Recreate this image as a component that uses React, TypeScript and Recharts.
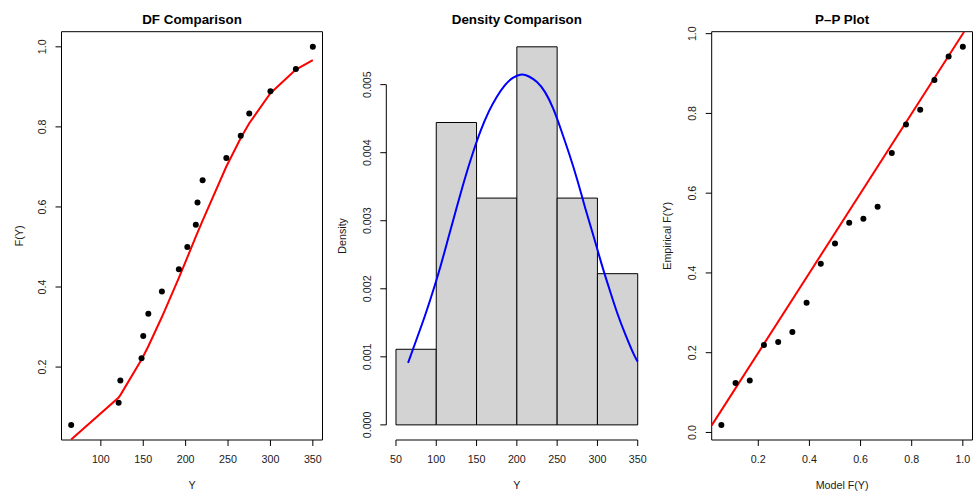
import React from 'react';
import {
  ComposedChart, XAxis, YAxis, Line, Scatter, ReferenceArea, ReferenceLine,
} from 'recharts';

// ---------- data ----------
const sortedY = [65, 121, 123, 148, 150, 156, 172, 192, 202, 212, 214, 220, 248, 265, 275, 300, 330, 350];
const empiricalF = [0.0556, 0.1111, 0.1667, 0.2222, 0.2778, 0.3333, 0.3889, 0.4444, 0.5, 0.5556, 0.6111, 0.6667, 0.7222, 0.7778, 0.8333, 0.8889, 0.9444, 1.0];
const modelF = [0.019, 0.124, 0.130, 0.219, 0.227, 0.252, 0.325, 0.423, 0.474, 0.526, 0.536, 0.566, 0.701, 0.772, 0.809, 0.884, 0.943, 0.967];

const histBreaks = [50, 100, 150, 200, 250, 300, 350];
const histDensity = [0.001111, 0.004444, 0.003333, 0.005556, 0.003333, 0.002222];

const curveX = [65, 75, 85, 95, 105, 115, 125, 135, 145, 155, 165, 175, 185, 195, 206, 215, 225, 235, 245, 255, 265, 275, 285, 295, 305, 315, 325, 335, 345, 350];
const curveD = [0.00091, 0.00124, 0.00157, 0.00193, 0.00232, 0.00275, 0.00318, 0.00360, 0.00398, 0.00432, 0.00460, 0.00482, 0.00499, 0.00510, 0.00515, 0.00512, 0.00504, 0.00489, 0.00465, 0.00433, 0.00398, 0.00360, 0.00318, 0.00278, 0.00237, 0.00199, 0.00163, 0.00132, 0.00104, 0.00093];

const p1XTicks = [100, 150, 200, 250, 300, 350];
const p1YTicks = [0.2, 0.4, 0.6, 0.8, 1.0];
const p1YTickLabels = ['0.2', '0.4', '0.6', '0.8', '1.0'];
const p2XTicks = [50, 100, 150, 200, 250, 300, 350];
const p2YTicks = [0, 0.001, 0.002, 0.003, 0.004, 0.005];
const p2YTickLabels = ['0.000', '0.001', '0.002', '0.003', '0.004', '0.005'];
const p3XTicks = [0.2, 0.4, 0.6, 0.8, 1.0];
const p3XTickLabels = ['0.2', '0.4', '0.6', '0.8', '1.0'];
const p3YTicks = [0, 0.2, 0.4, 0.6, 0.8, 1.0];
const p3YTickLabels = ['0.0', '0.2', '0.4', '0.6', '0.8', '1.0'];

const titles = ['DF Comparison', 'Density Comparison', 'P\u2013P Plot'];
const xLabels = ['Y', 'Y', 'Model F(Y)'];
const yLabels = ['F(Y)', 'Density', 'Empirical F(Y)'];

// ---------- helpers ----------
const ext = (arr: number[]): [number, number] => {
  const lo = Math.min(...arr);
  const hi = Math.max(...arr);
  const d = hi - lo;
  return [lo - 0.04 * d, hi + 0.04 * d];
};

const FONT = '"Liberation Sans", Arial, Helvetica, sans-serif';
const W = 973;
const H = 494;
const TOP = 31.7;
const BOTTOM = 440;
const YAW = 40;
const XAH = 30;
const TICK_FS = 10.7;
const TXT = '#1a1a1a';

const panels = [
  { left: 61.5, right: 322.5 },
  { left: 386.3, right: 647.4 },
  { left: 711.7, right: 972.5 },
];

const makeXTick = (labels?: string[], ticks?: number[]) => (props: any) => {
  const { x, y, payload } = props;
  let txt = String(payload.value);
  if (labels && ticks) {
    const idx = ticks.findIndex((t) => Math.abs(t - payload.value) < 1e-9);
    if (idx >= 0) txt = labels[idx];
  }
  return (
    <text x={x} y={y + 13.3} dy="0.35em" textAnchor="middle" fontSize={TICK_FS} fill={TXT} fontFamily={FONT}>
      {txt}
    </text>
  );
};

const makeYTick = (labels: string[], ticks: number[]) => (props: any) => {
  const { x, y, payload } = props;
  const idx = ticks.findIndex((t) => Math.abs(t - payload.value) < 1e-9);
  const txt = idx >= 0 ? labels[idx] : String(payload.value);
  const cx = x - 13;
  return (
    <text x={cx} y={y} dy="0.35em" textAnchor="middle" fontSize={TICK_FS} fill={TXT} fontFamily={FONT}
      transform={`rotate(-90 ${cx} ${y})`}>
      {txt}
    </text>
  );
};

const Dot = (props: any) => {
  const { cx, cy } = props;
  if (cx == null || cy == null) return null;
  return <circle cx={cx} cy={cy} r={3} fill="#000" />;
};

const margin = (i: number) => ({
  top: TOP,
  bottom: H - BOTTOM - XAH,
  left: panels[i].left - YAW,
  right: W - panels[i].right,
});

const abs: React.CSSProperties = { position: 'absolute', left: 0, top: 0 };

// ---------- panels ----------
function Panel1() {
  const data = sortedY.map((v, i) => ({ x: v, emp: empiricalF[i], fit: modelF[i] }));
  const xd = ext(sortedY);
  const yd = ext(empiricalF);
  return (
    <div style={abs}>
      <ComposedChart width={W} height={H} data={data} margin={margin(0)}>
        <XAxis dataKey="x" type="number" domain={xd} ticks={p1XTicks} interval={0} allowDataOverflow
          height={XAH} axisLine={false} tickSize={6} tickMargin={0} tickLine={{ stroke: '#000' }}
          tick={makeXTick()} />
        <YAxis type="number" domain={yd} ticks={p1YTicks} interval={0} allowDataOverflow
          width={YAW} axisLine={false} tickSize={6} tickMargin={0} tickLine={{ stroke: '#000' }}
          tick={makeYTick(p1YTickLabels, p1YTicks)} />
        <ReferenceArea x1={xd[0]} x2={xd[1]} y1={yd[0]} y2={yd[1]} fill="none" fillOpacity={0}
          stroke="#000" strokeWidth={1} ifOverflow="visible" />
        <Line dataKey="fit" type="linear" stroke="#ff0000" strokeWidth={2} dot={false}
          isAnimationActive={false} />
        <Scatter dataKey="emp" shape={Dot} isAnimationActive={false} />
      </ComposedChart>
    </div>
  );
}

function Panel2() {
  const data = curveX.map((v, i) => ({ x: v, d: curveD[i] }));
  const xd = ext(histBreaks);
  const yd = ext([0, ...histDensity]);
  return (
    <div style={abs}>
      <ComposedChart width={W} height={H} data={data} margin={margin(1)}>
        <XAxis dataKey="x" type="number" domain={xd} ticks={p2XTicks} interval={0} allowDataOverflow
          height={XAH} axisLine={false} tickSize={6} tickMargin={0} tickLine={{ stroke: '#000' }}
          tick={makeXTick()} />
        <YAxis type="number" domain={yd} ticks={p2YTicks} interval={0} allowDataOverflow
          width={YAW} axisLine={false} tickSize={6} tickMargin={0} tickLine={{ stroke: '#000' }}
          tick={makeYTick(p2YTickLabels, p2YTicks)} />
        {histDensity.map((d, i) => (
          <ReferenceArea key={i} x1={histBreaks[i]} x2={histBreaks[i + 1]} y1={0} y2={d}
            fill="#d3d3d3" fillOpacity={1} stroke="#000" strokeWidth={1} ifOverflow="visible" />
        ))}
        <ReferenceLine segment={[{ x: p2XTicks[0], y: yd[0] }, { x: p2XTicks[p2XTicks.length - 1], y: yd[0] }]}
          stroke="#000" strokeWidth={1} ifOverflow="visible" />
        <ReferenceLine segment={[{ x: xd[0], y: p2YTicks[0] }, { x: xd[0], y: p2YTicks[p2YTicks.length - 1] }]}
          stroke="#000" strokeWidth={1} ifOverflow="visible" />
        <Line dataKey="d" type="natural" stroke="#0000ff" strokeWidth={2} dot={false}
          isAnimationActive={false} />
      </ComposedChart>
    </div>
  );
}

function Panel3() {
  const data = empiricalF.map((v, i) => ({ x: v, y: modelF[i] }));
  const xd = ext(empiricalF);
  const yd = ext(modelF);
  const lo = Math.max(xd[0], yd[0]);
  const hi = Math.min(xd[1], yd[1]);
  return (
    <div style={abs}>
      <ComposedChart width={W} height={H} data={data} margin={margin(2)}>
        <XAxis dataKey="x" type="number" domain={xd} ticks={p3XTicks} interval={0} allowDataOverflow
          height={XAH} axisLine={false} tickSize={6} tickMargin={0} tickLine={{ stroke: '#000' }}
          tick={makeXTick(p3XTickLabels, p3XTicks)} />
        <YAxis type="number" domain={yd} ticks={p3YTicks} interval={0} allowDataOverflow
          width={YAW} axisLine={false} tickSize={6} tickMargin={0} tickLine={{ stroke: '#000' }}
          tick={makeYTick(p3YTickLabels, p3YTicks)} />
        <ReferenceArea x1={xd[0]} x2={xd[1]} y1={yd[0]} y2={yd[1]} fill="none" fillOpacity={0}
          stroke="#000" strokeWidth={1} ifOverflow="visible" />
        <ReferenceLine segment={[{ x: lo, y: lo }, { x: hi, y: hi }]} stroke="#ff0000" strokeWidth={2}
          ifOverflow="visible" />
        <Scatter dataKey="y" shape={Dot} isAnimationActive={false} />
      </ComposedChart>
    </div>
  );
}

function Labels() {
  const midY = (TOP + BOTTOM) / 2;
  const yLabelX = [19, 342, 667];
  return (
    <svg width={W} height={H} style={{ ...abs, pointerEvents: 'none' }}>
      {panels.map((p, i) => {
        const cx = (p.left + p.right) / 2;
        return (
          <g key={i}>
            <text x={cx} y={19} dy="0.35em" textAnchor="middle" fontSize={13.4} fontWeight="bold"
              fill="#000" fontFamily={FONT}>{titles[i]}</text>
            <text x={cx} y={485} dy="0.35em" textAnchor="middle" fontSize={TICK_FS}
              fill={TXT} fontFamily={FONT}>{xLabels[i]}</text>
            <text x={yLabelX[i]} y={midY} dy="0.35em" textAnchor="middle" fontSize={TICK_FS}
              fill={TXT} fontFamily={FONT}
              transform={`rotate(-90 ${yLabelX[i]} ${midY})`}>{yLabels[i]}</text>
          </g>
        );
      })}
    </svg>
  );
}

export default function App() {
  return (
    <div style={{ position: 'absolute', left: 0, top: 0, width: W, height: H, background: '#fff' }}>
      <Panel1 />
      <Panel2 />
      <Panel3 />
      <Labels />
    </div>
  );
}
